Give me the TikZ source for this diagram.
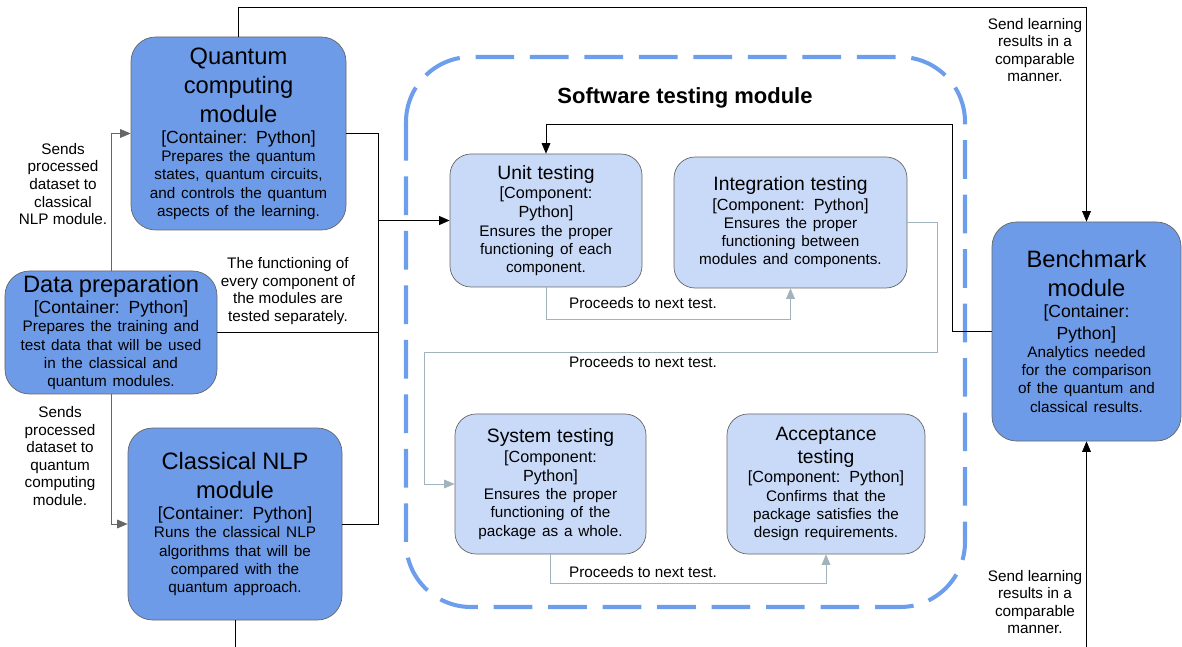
\documentclass[tikz,border=0pt]{standalone}
\usepackage{fontspec}
\setmainfont{Liberation Sans}
\usetikzlibrary{arrows.meta}
\definecolor{contblue}{HTML}{6D9BE8}
\definecolor{compblue}{HTML}{C9DAF8}
\definecolor{dashblue}{HTML}{6D9EEB}
\definecolor{nextgray}{HTML}{A3B3BC}
\tikzset{>={Triangle[length=6pt,width=5pt]}}
\newcommand{\boxtitle}[1]{{\fontsize{13.5}{16.5}\selectfont #1\par}}
\newcommand{\boxkind}[1]{{\fontsize{10}{12}\selectfont #1\par}}
\newcommand{\boxtext}[1]{{\fontsize{8.7}{10.4}\selectfont #1\par}}
\newcommand{\testtitle}[1]{{\fontsize{11}{13}\selectfont #1\par}}
\newcommand{\testkind}[1]{{\fontsize{9.2}{11}\selectfont #1\par}}

\begin{document}
\begin{tikzpicture}[
    container/.style={draw=gray!80!black, fill=contblue, rounded corners=14pt, align=center, inner xsep=0pt, inner ysep=1pt},
    component/.style={draw=gray!80!black, fill=compblue, rounded corners=12pt, align=center, inner xsep=0pt, inner ysep=1pt},
    note/.style={align=center, font=\fontsize{8.7}{10}\selectfont},
    feed/.style={draw=gray!80!black, ->},
    nextlink/.style={draw=nextgray, ->}
  ]
        \useasboundingbox (0,0) rectangle (23.64,-12.94);

        % testing module frame
        \draw[dashblue, line width=2.3pt, dash pattern=on 22pt off 9pt, rounded corners=1.3cm] (8.12,-1.14) rectangle (19.3,-12.14);
        \node[font=\bfseries\fontsize{12.5}{15}\selectfont] (swt) at (13.7,-1.96) {Software testing module};

        % containers
        \node[container, text width=4.3cm, minimum height=3.86cm] (qc) at (4.77,-2.67) {\boxtitle{Quantum\\computing\\module}\boxkind{[Container: Python]}\boxtext{Prepares the quantum\\states, quantum circuits,\\and controls the quantum\\aspects of the learning.}};
        \node[container, text width=4.24cm, minimum height=2.46cm, inner ysep=0pt] (dp) at (2.22,-6.65) {\boxtitle{Data preparation}\boxkind{[Container: Python]}\boxtext{Prepares the training and\\test data that will be used\\in the classical and\\quantum modules.}};
        \node[container, text width=4.28cm, minimum height=3.84cm] (cl) at (4.70,-10.48) {\boxtitle{Classical NLP\\module}\boxkind{[Container: Python]}\boxtext{Runs the classical NLP\\algorithms that will be\\compared with the\\quantum approach.}};
        \node[container, text width=3.78cm, minimum height=4.38cm] (bm) at (21.73,-6.63) {\boxtitle{Benchmark\\module}\boxkind{[Container:\\Python]}\boxtext{Analytics needed\\for the comparison\\of the quantum and\\classical results.}};

        % components
        \node[component, text width=3.84cm, minimum height=2.66cm] (ut) at (10.92,-4.41) {\testtitle{Unit testing}\testkind{[Component:\\Python]}\boxtext{Ensures the proper\\functioning of each\\component.}};
        \node[component, text width=4.66cm, minimum height=2.62cm] (it) at (15.81,-4.45) {\testtitle{Integration testing}\testkind{[Component: Python]}\boxtext{Ensures the proper\\functioning between\\modules and components.}};
        \node[component, text width=3.82cm, minimum height=2.8cm] (st) at (11.01,-9.68) {\testtitle{System testing}\testkind{[Component:\\Python]}\boxtext{Ensures the proper\\functioning of the\\package as a whole.}};
        \node[component, text width=3.96cm, minimum height=2.8cm] (at) at (16.52,-9.68) {\testtitle{Acceptance\\testing}\testkind{[Component: Python]}\boxtext{Confirms that the\\package satisfies the\\design requirements.}};

        % results to benchmark
        \draw[->] (qc.north) -- ++(0,0.58) -| (bm.north);
        \node[note] (res1) at (20.7,-1.0) {Send learning\\results in a\\comparable\\manner.};
        \coordinate (clend) at (4.70,-12.94);
        \coordinate (bmend) at (21.73,-12.94);
        \draw (cl.south) -- (clend);
        \draw[->] (bmend) -- (bm.south);
        \node[note] (res2) at (20.7,-12.04) {Send learning\\results in a\\comparable\\manner.};

        % data preparation
        \draw[feed] (dp.north) |- (qc.west);
        \node[note] (snd1) at (1.26,-3.68) {Sends\\processed\\dataset to\\classical\\NLP module.};
        \draw[feed] (dp.south) |- (cl.west);
        \node[note] (snd2) at (1.2,-9.12) {Sends\\processed\\dataset to\\quantum\\computing\\module.};

        % into the tests
        \coordinate (bus) at (7.56,-4.41);
        \draw (qc.east) -| (bus);
        \draw (cl.east) -| (bus);
        \draw (dp.east) -- (dp.east -| bus);
        \draw[line width=0.9pt, ->] (bus) -- (ut.west);
        \node[note] (sep) at (5.76,-5.82) {The functioning of\\every component of\\the modules are\\tested separately.};

        \coordinate (back) at (19.04,-2.48);
        \draw[->] (bm.west) -| (back) -| (ut.north);

        % test sequence
        \coordinate (turn) at (8.48,-7.04);
        \draw[nextlink] (ut.south) -- ++(0,-0.64) -| (it.south);
        \node[note] (nx1) at (12.86,-6.06) {Proceeds to next test.};
        \draw[nextlink] (it.east) -- ++(0.6,0) |- (turn) |- (st.west);
        \node[note] (nx2) at (12.86,-7.24) {Proceeds to next test.};
        \draw[nextlink] (st.south) -- ++(0,-0.58) -| (at.south);
        \node[note] (nx3) at (12.86,-11.44) {Proceeds to next test.};
\end{tikzpicture}
\end{document}
